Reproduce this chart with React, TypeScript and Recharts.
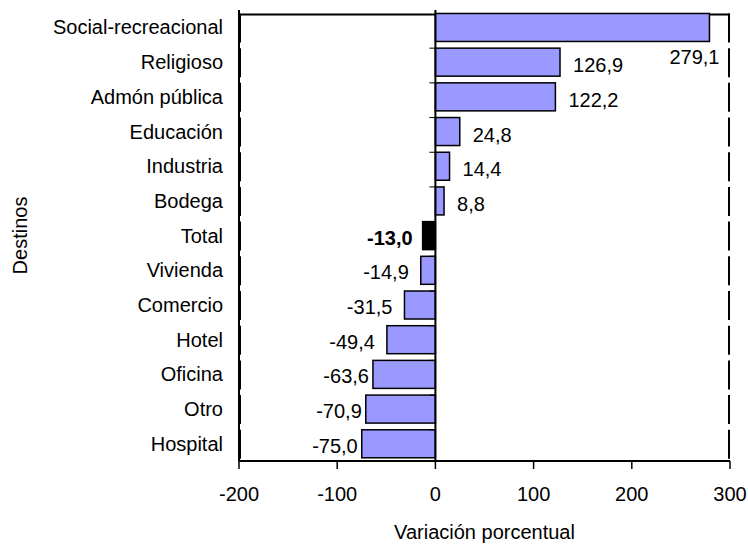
import React from 'react';
import {
  BarChart,
  Bar,
  XAxis,
  YAxis,
  LabelList,
  ReferenceLine,
} from 'recharts';

const categories = [
  'Social-recreacional',
  'Religioso',
  'Admón pública',
  'Educación',
  'Industria',
  'Bodega',
  'Total',
  'Vivienda',
  'Comercio',
  'Hotel',
  'Oficina',
  'Otro',
  'Hospital',
];
const variation = [279.1, 126.9, 122.2, 24.8, 14.4, 8.8, -13.0, -14.9, -31.5, -49.4, -63.6, -70.9, -75.0];
const xTicks = [-200, -100, 0, 100, 200, 300];
const xDomain = [-200, 300];
const totalName = 'Total';

const data = categories.map((name, i) => ({ name, value: variation[i] }));

const fmt = (v: number) => v.toFixed(1).replace('.', ',');

// barra con borde + marca pequeña en el eje cero al inicio de cada categoría;
// cada barra dibuja también su tramo del marco (lados izquierdo/derecho, arriba en la primera)
const BarShape = (props: any) => {
  const { x, y, width, height, value, index, background } = props;
  const v = Array.isArray(value) ? value[1] : value;
  const left = Math.min(x, x + width);
  const w = Math.abs(width);
  const zeroX = v >= 0 ? left : left + w;
  const isTotal = data[index]?.name === totalName;
  let frame = null;
  if (background) {
    const bandTop = background.y;
    const bandBottom = bandTop + height + 2 * (y - bandTop);
    const fl = background.x + 1;
    const fr = background.x + background.width - 1;
    frame = (
      <g>
        <line x1={fl} x2={fl} y1={bandTop} y2={bandBottom + 1} stroke="#000" strokeWidth={2} />
        <line x1={fr} x2={fr} y1={bandTop} y2={bandBottom + 1} stroke="#000" strokeWidth={2} />
        {index === 0 && (
          <line x1={fl - 1} x2={fr + 1} y1={bandTop + 1} y2={bandTop + 1} stroke="#000" strokeWidth={2} />
        )}
      </g>
    );
  }
  return (
    <g>
      {frame}
      <rect x={left} y={y} width={w} height={height} fill={isTotal ? '#000' : '#9999FF'} stroke="#000" strokeWidth={1.5} />
      {index > 0 && background && (
        <line x1={zeroX - 6} x2={zeroX} y1={background.y} y2={background.y} stroke="#000" strokeWidth={1} />
      )}
    </g>
  );
};

const ValueLabel = (props: any) => {
  const vb = props.viewBox || props;
  const x = Number(vb.x);
  const w = Number(vb.width);
  const y = Number(vb.y);
  const h = Number(vb.height);
  const v = Number(props.value);
  const cy = y + h / 2;
  const isTotal = data[props.index]?.name === totalName;
  if (v >= 0) {
    const end = Math.max(x, x + w);
    if (v > 250) {
      // no cabe a la derecha: va debajo del extremo
      return (
        <text x={end + 10} y={cy + 30} textAnchor="end" dominantBaseline="central" fontSize={20} fill="#000">
          {fmt(v)}
        </text>
      );
    }
    return (
      <text x={end + 13} y={cy + 3} textAnchor="start" dominantBaseline="central" fontSize={20} fill="#000">
        {fmt(v)}
      </text>
    );
  }
  const end = Math.min(x, x + w);
  const gap = v < -55 ? 4 : isTotal ? 10 : 12;
  return (
    <text
      x={end - gap}
      y={cy + 2}
      textAnchor="end"
      dominantBaseline="central"
      fontSize={20}
      fontWeight={isTotal ? 'bold' : 'normal'}
      fill="#000"
    >
      {fmt(v)}
    </text>
  );
};

const YTitle = (props: any) => {
  const vb = props.viewBox || {};
  const cy = vb.height ? vb.y + vb.height / 2 : 236;
  return (
    <text
      x={20}
      y={cy}
      transform={`rotate(-90, 20, ${cy})`}
      textAnchor="middle"
      dominantBaseline="central"
      fontSize={20}
      fill="#000"
    >
      Destinos
    </text>
  );
};

export default function App() {
  return (
    <div
      style={{
        position: 'absolute',
        left: 0,
        top: 0,
        width: 748,
        height: 548,
        background: '#fff',
        fontFamily: "'Liberation Sans', Arial, sans-serif",
      }}
    >
      <BarChart
        width={748}
        height={548}
        data={data}
        layout="vertical"
        margin={{ top: 10, right: 18, left: 0, bottom: 0 }}
        barCategoryGap="10%"
      >
        <XAxis
          type="number"
          domain={xDomain}
          ticks={xTicks}
          height={87}
          tickSize={8}
          tickMargin={18}
          axisLine={{ stroke: '#000', strokeWidth: 2 }}
          tickLine={{ stroke: '#000', strokeWidth: 1.5 }}
          tick={{ fill: '#000', fontSize: 20 }}
          label={{ value: 'Variación porcentual', position: 'insideBottom', offset: 9, fill: '#000', fontSize: 20 }}
        />
        <YAxis
          yAxisId="cat"
          type="category"
          dataKey="name"
          width={239}
          axisLine={{ stroke: '#000', strokeWidth: 2 }}
          tickLine={false}
          tickSize={0}
          tickMargin={16}
          interval={0}
          tick={{ fill: '#000', fontSize: 20 }}
          label={YTitle}
        />
        <Bar yAxisId="cat" dataKey="value" shape={BarShape} isAnimationActive={false}>
          <LabelList dataKey="value" content={ValueLabel} />
        </Bar>
        <ReferenceLine yAxisId="cat" x={0} stroke="#000" strokeWidth={2} />
      </BarChart>
    </div>
  );
}
